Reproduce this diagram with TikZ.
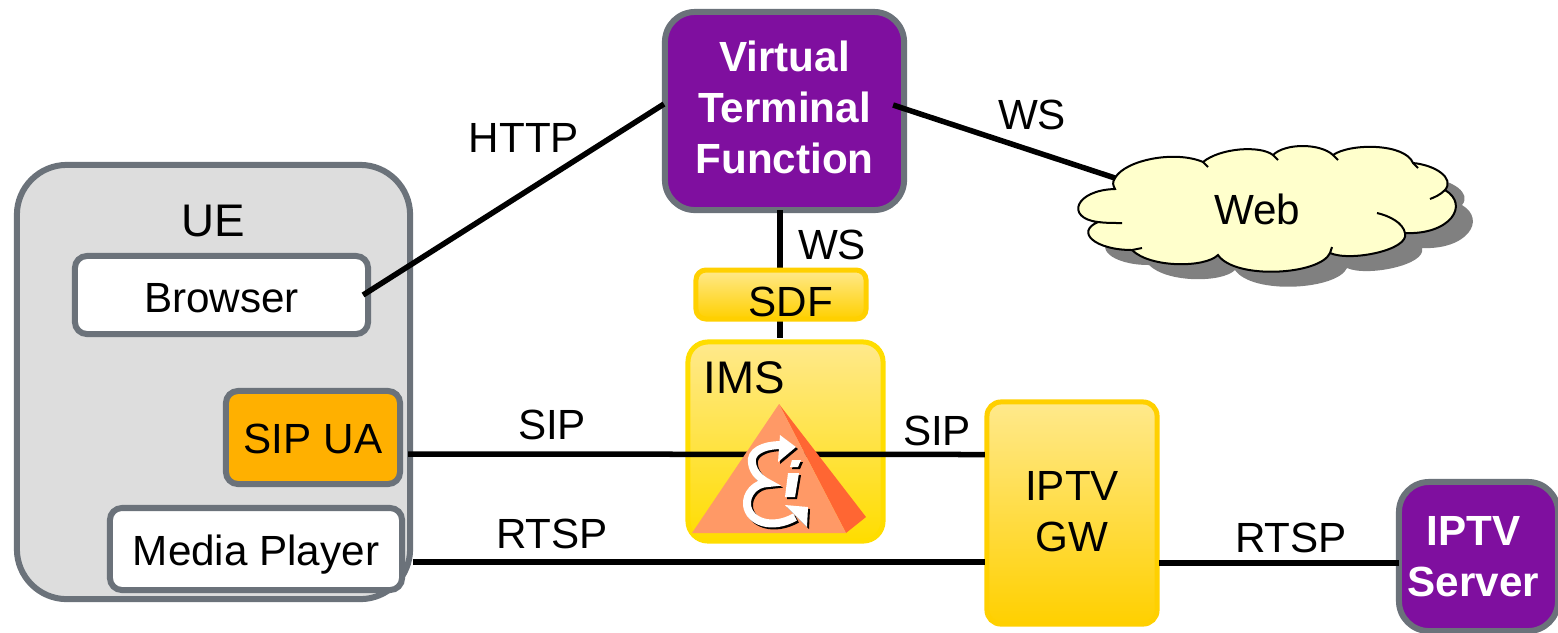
\documentclass[tikz,border=0pt]{standalone}
\usepackage{fontspec}
\setmainfont{Liberation Sans}
\usepackage{xcolor}
\usetikzlibrary{arrows.meta}
\definecolor{boxgray}{HTML}{6B727A}
\definecolor{uefill}{HTML}{DDDDDD}
\definecolor{uaorange}{HTML}{FFB000}
\definecolor{vtfpurple}{HTML}{7F0F9F}
\definecolor{imsline}{HTML}{FFD000}
\definecolor{imslight}{HTML}{FFE98C}
\definecolor{imsdark}{HTML}{FFDD00}
\definecolor{pyrlight}{HTML}{FF9966}
\definecolor{pyrdark}{HTML}{FF6633}
\definecolor{cloudfill}{HTML}{FFFFCC}
\definecolor{cloudshade}{HTML}{808080}
\tikzset{
  txt/.style={font=\fontsize{12}{14.5}\selectfont,inner sep=0pt,outer sep=0pt,align=center},
  lbl/.style={txt,anchor=base},
  box/.style={txt,draw=boxgray,line width=.06cm,rounded corners=.12cm},
  oneline/.style={text height=.32cm,text depth=0pt},
  purplebox/.style={box,fill=vtfpurple,text=white,rounded corners=.3cm,font=\fontsize{12}{14.5}\selectfont\bfseries},
  goldbox/.style={txt,draw=imsline,line width=.05cm,rounded corners=.1cm,top color=imslight,bottom color=imsline}
}
\newcommand{\webcloud}{(1115,178) .. controls (1125,160) and (1175,150) .. (1203,162)
  .. controls (1220,148) and (1260,145) .. (1273,155)
  .. controls (1285,143) and (1320,143) .. (1333,155)
  .. controls (1350,143) and (1405,143) .. (1413,163)
  .. controls (1435,165) and (1455,178) .. (1445,190)
  .. controls (1470,205) and (1450,235) .. (1405,233)
  .. controls (1410,250) and (1350,262) .. (1330,253)
  .. controls (1320,275) and (1235,280) .. (1218,255)
  .. controls (1205,268) and (1150,268) .. (1132,250)
  .. controls (1095,250) and (1075,232) .. (1098,222)
  .. controls (1065,218) and (1075,190) .. (1115,189)
  .. controls (1113,185) and (1112,183) .. cycle}
\newcommand{\epsiconpath}{(782,445) .. controls (762,445) and (750,452) .. (752,463)
  .. controls (753,473) and (762,480) .. (768,483)
  .. controls (755,483) and (746,494) .. (747,505)
  .. controls (749,522) and (772,530) .. (795,517)}

\begin{document}
\begin{tikzpicture}[x=.01cm,y=-.01cm]
\useasboundingbox (0,0) rectangle (1558,632);

\begin{scope}
    \fill [cloudshade,shift={(17,15)}] \webcloud;
    \draw [black,line width=.02cm,fill=cloudfill] \webcloud;
    \foreach \a/\b in {1203/162,1273/155,1333/155,1413/163}
        \draw [line width=.02cm] (\a,\b) -- ++(5,5);
    \draw [line width=.02cm] (1445,190) .. controls (1440,195) and (1435,197) .. (1430,199);
    \draw [line width=.02cm] (1405,233) .. controls (1403,223) and (1390,216) .. (1377,213);
    \draw [line width=.02cm] (1330,253) -- (1332,247);
    \draw [line width=.02cm] (1132,250) -- (1142,248);
    \draw [line width=.02cm] (1098,222) .. controls (1105,223) and (1115,223) .. (1122,223);
    \node [txt] (web) at (1257,209) {Web};
    \coordinate (webedge) at (1115,178);
\end{scope}

\begin{scope}
    \node [box,fill=uefill,minimum width=3.93cm,minimum height=4.34cm,rounded corners=.5cm] (ue) at (213.5,382) {};
    \node [box,oneline,text height=.34cm,fill=white,minimum width=2.93cm,minimum height=.78cm] (browser) at (221.5,295) {Browser};
    \node [box,oneline,fill=uaorange,minimum width=1.74cm,minimum height=.93cm] (sipua) at (313,437.5) {SIP UA};
    \node [box,oneline,fill=white,minimum width=2.92cm,minimum height=.82cm] (player) at (256,549) {Media Player};
    \node [purplebox,minimum width=2.39cm,minimum height=1.98cm] (vtf) at (784.5,111) {Virtual\\Terminal\\Function\rule[-.07cm]{0pt}{0pt}};
    \node [goldbox,draw=imsdark,minimum width=1.95cm,minimum height=1.99cm,rounded corners=.2cm,top color=imslight,bottom color=imsdark] (ims) at (785.5,441.5) {};
    \node [goldbox,minimum width=1.70cm,minimum height=2.22cm,rounded corners=.14cm] (gw) at (1072,513) {IPTV\\GW\rule[-.04cm]{0pt}{0pt}};
    \node [purplebox,minimum width=1.59cm,minimum height=1.49cm] (server) at (1478.5,556.5) {\hspace*{-.1cm}IPTV\\\hspace*{-.1cm}Server};
\end{scope}

\begin{scope}[every edge/.style={draw=black,line width=.055cm}]
    \path [-] ([shift={(-5,0)}]browser.east) edge ([shift={(-1,-7)}]vtf.west);
    \path [-] ([shift={(-11,-6)}]vtf.east) edge (webedge);
    \path [-] ([shift={(-4.5,0)}]vtf.south) edge ([shift={(-5.5,-4)}]ims.north);
    \path [-] ([shift={(8,16.5)}]sipua.east) edge ([shift={(-2,-58.5)}]gw.west);
    \path [-] ([shift={(11,13)}]player.east) edge ([shift={(-2,49)}]gw.west);
    \path [-] ([shift={(2,50)}]gw.east) edge ([shift={(0,6.5)}]server.west);
\end{scope}

\begin{scope}
    \node [goldbox,minimum width=1.70cm,minimum height=.49cm] (sdf) at (781,294.5) {};
    \fill [pyrdark] (779,404) -- (866,517) -- (846,533) -- cycle;
    \fill [pyrlight] (779,404) -- (846,533) -- (692,533) -- cycle;
    \foreach \col/\off in {black/2,white/0} {
    \begin{scope}[shift={(\off,\off)}]
        \draw [\col,line width=.08cm] \epsiconpath;
        \fill [\col] (780,435) -- (796,447) -- (778,462) -- cycle;
        \fill [\col] (785,505) -- (808,507) -- (807,527) -- cycle;
        \fill [\col] (788,473) -- (799,473) -- (795,497) -- (785,497) -- cycle;
        \fill [\col] (792,460) -- (801,460) -- (798,467) -- (790,467) -- cycle;
    \end{scope}
    }
\end{scope}

\node [lbl] (lhttp) at (524,152) {HTTP};
\node [lbl] (lwsa) at (1032,129) {WS};
\node [lbl] (lwsb) at (832,259) {WS};
\node [lbl] (lsipa) at (552,439) {SIP};
\node [lbl] (lsipb) at (937,445) {SIP};
\node [lbl] (lrtspa) at (552,548) {RTSP};
\node [lbl] (lrtspb) at (1291,552) {RTSP};
\node [lbl,font=\fontsize{13}{15}\selectfont] (lue) at (213,236) {UE};
\node [lbl,font=\fontsize{13}{15}\selectfont] (lims) at (744,393) {IMS};
\node [lbl] (lsdf) at (791,316) {SDF};
\end{tikzpicture}
\end{document}
